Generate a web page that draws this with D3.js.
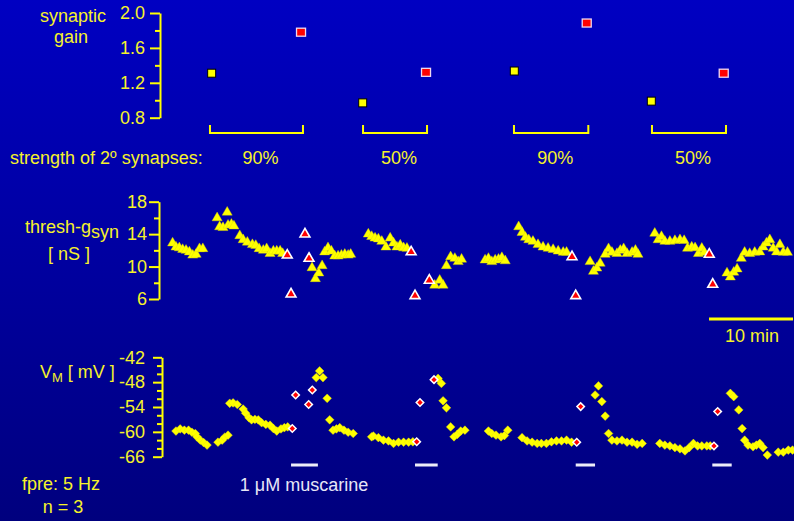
<!DOCTYPE html>
<html><head><meta charset="utf-8">
<script src="https://cdn.jsdelivr.net/npm/d3@7"></script>
<style>html,body{margin:0;padding:0;background:#0000a0;}svg{display:block;}</style>
</head><body>
<script>
// ---------- DATA ----------
const gainTicks = [0.8, 1.2, 1.6, 2.0];
const gainMinorTicks = [1.0, 1.4, 1.8];
const threshTicks = [6, 10, 14, 18];
const threshMinorTicks = [8, 12, 16];
const vmTicks = [-66, -60, -54, -48, -42];
const vmMinorTicks = [-64, -62, -58, -56, -52, -50, -46, -44];

// synaptic gain (time in min)
const gainCtrlT = [6.15, 24.13, 42.18, 58.49];
const gainCtrlV = [1.31, 0.97, 1.335, 0.99];
const gainMuscT = [16.79, 31.67, 50.80, 67.11];
const gainMuscV = [1.78, 1.32, 1.885, 1.31];
const strengthLabels = ["90%", "50%", "90%", "50%"];
const bracketStart = [5.95, 24.17, 42.14, 58.57];
const bracketEnd = [17.02, 31.79, 50.99, 67.38];
const muscStart = [15.6, 30.36, 49.49, 65.75];
const muscEnd = [18.8, 33.06, 51.79, 68.06];
const scaleBarStart = 65.36, scaleBarLen = 10;

// thresh-g_syn [nS]
const threshT = [1.5,1.9,2.3,2.7,3.1,3.5,3.9,4.3,4.7,5.1,
  6.8,7.1,7.5,8.0,8.1,8.5,8.8,9.5,9.9,10.4,11.0,11.4,11.8,12.3,12.7,13.1,13.5,13.9,14.3,14.6,
  18.1,18.5,18.9,19.3,19.6,20.0,20.4,20.8,21.2,21.6,22.0,22.4,22.7,
  24.8,25.2,25.6,26.0,26.4,26.9,27.4,27.8,28.2,28.6,29.0,29.4,
  32.7,33.3,33.7,34.1,34.6,35.1,35.5,35.9,
  38.7,39.1,39.5,39.9,40.3,40.7,41.1,
  42.7,43.1,43.5,43.9,44.4,45.0,45.6,46.2,46.8,47.4,48.0,48.4,
  51.2,51.6,52.0,52.4,53.0,53.4,53.8,54.4,54.8,55.2,55.6,56.2,56.6,56.9,
  58.9,59.3,59.7,60.1,60.7,61.3,61.9,62.4,62.8,63.3,63.7,64.1,64.5,64.8,
  67.5,67.9,68.3,68.7,69.2,69.6,70.2,70.8,71.4,71.8,72.2,72.6,73.0,73.4,73.8,74.2,74.7];
const threshV = [12.9,12.4,12.3,12.1,12.0,11.8,11.4,11.5,12.2,12.2,
  16.0,14.9,14.8,16.7,15.1,15.2,15.0,13.8,13.3,13.0,12.7,12.6,12.2,12.0,12.2,11.6,11.9,11.9,11.9,11.6,
  9.85,8.5,9.2,10.1,11.8,12.3,11.9,11.3,11.3,11.4,11.5,11.4,11.5,
  14.0,13.7,13.5,13.4,13.1,12.4,13.5,12.9,12.4,12.65,12.3,12.25,
  7.7,8.3,7.7,10.1,11.2,11.0,10.6,10.9,
  10.8,11.0,10.6,10.8,10.9,11.1,10.7,
  14.9,14.2,13.6,13.3,13.1,12.7,12.4,12.25,12.1,11.9,11.75,11.75,
  10.6,9.4,9.8,10.4,11.5,12.2,11.75,11.6,12.0,12.2,11.6,11.75,12.0,11.5,
  14.1,13.3,13.7,13.1,13.1,13.2,13.3,13.2,12.25,12.4,12.3,11.6,12.25,11.75,
  9.2,8.7,9.3,9.7,11.0,11.75,11.6,11.75,11.8,12.4,12.9,13.3,12.25,11.8,12.7,11.75,11.75];
const threshRedT = [15.15, 15.6, 17.26, 17.74, 29.9, 30.36, 32.06, 49.05, 49.49, 65.39, 65.8];
const threshRedV = [11.4, 6.6, 14.0, 11.0, 11.8, 6.4, 8.3, 11.2, 6.4, 11.5, 7.8];

// V_M [mV]
const vmT = [1.9,2.4,2.9,3.4,3.8,4.2,4.4,4.8,5.2,5.6,
  6.9,7.4,7.7,8.1,
  8.3,8.7,9.2,9.9,10.2,10.6,10.9,11.3,11.7,12.1,12.6,13.1,13.5,13.9,14.4,14.8,15.2,
  18.6,19.0,19.4,19.9,20.2,20.6,21.0,21.4,21.9,22.4,23.0,
  25.2,25.4,26.0,26.6,27.2,27.8,28.4,29.0,29.6,30.1,
  33.1,33.5,33.7,34.1,34.6,35.0,35.4,35.8,36.3,
  39.1,39.5,40.0,40.6,41.0,41.4,
  43.1,43.7,44.3,44.9,45.4,46.0,46.6,47.2,47.8,48.4,49.0,
  51.8,52.2,52.6,53.0,53.4,53.8,54.4,55.0,55.6,56.2,56.8,57.4,
  59.5,60.1,60.7,61.3,61.9,62.5,63.0,63.5,64.0,64.5,65.1,65.5,
  67.9,68.3,68.9,69.3,69.6,70.0,70.6,71.0,71.4,71.8,72.3,73.6,74.2,74.8,75.3];
const vmV = [-59.8,-59.3,-59.6,-59.6,-60.1,-60.4,-61.2,-62.0,-62.6,-63.2,
  -62.5,-62.0,-61.3,-60.8,
  -53.1,-53.0,-53.4,-54.5,-55.5,-56.6,-57.1,-57.0,-57.1,-57.8,-58.2,-58.4,-59.2,-59.8,-59.3,-59.0,-58.8,
  -46.9,-45.3,-46.9,-51.9,-57.1,-59.6,-59.3,-59.0,-59.6,-60.1,-60.4,
  -61.2,-61.0,-61.4,-62.0,-62.2,-62.8,-62.5,-62.5,-62.5,-62.4,
  -47.1,-48.3,-52.5,-54.2,-58.8,-61.2,-60.6,-59.8,-59.6,
  -59.8,-60.4,-60.8,-61.2,-60.9,-59.6,
  -61.4,-62.2,-62.5,-62.8,-62.8,-62.8,-62.4,-62.2,-62.2,-62.0,-62.5,
  -51.1,-48.9,-52.7,-56.2,-60.4,-62.0,-62.2,-62.0,-62.5,-62.5,-63.0,-62.8,
  -62.8,-63.2,-63.4,-63.8,-64.1,-64.6,-63.8,-62.8,-63.4,-63.4,-63.4,-63.4,
  -50.7,-51.5,-54.7,-59.2,-62.0,-63.2,-63.6,-63.2,-62.8,-63.8,-65.6,-64.9,-64.9,-64.4,-64.4];
const vmRedT = [15.75, 16.15, 17.7, 18.13, 30.56, 30.95, 32.62, 49.61, 50.08, 65.95, 66.39];
const vmRedV = [-59.2, -51.1, -53.4, -49.9, -62.4, -52.9, -47.4, -62.5, -53.9, -63.4, -55.1];

// ---------- DRAW ----------
const W = 794, H = 521;
const YEL = "#ffff00", TXT = "#f6f22a", FONT = "'Liberation Sans', Arial, sans-serif";
const svg = d3.select("body").append("svg").attr("width", W).attr("height", H)
  .style("font-family", FONT);
const defs = svg.append("defs");
const grad = defs.append("linearGradient").attr("id", "bg").attr("x1", 0).attr("y1", 0).attr("x2", 0).attr("y2", 1);
grad.append("stop").attr("offset", "0%").attr("stop-color", "#0000c2");
grad.append("stop").attr("offset", "100%").attr("stop-color", "#00007e");
svg.append("rect").attr("width", W).attr("height", H).attr("fill", "url(#bg)");

const x = d3.scaleLinear().domain([0, 75]).range([160, 790]);
const yGain = d3.scaleLinear().domain([0.8, 2.0]).range([117.7, 13]);
const yThr = d3.scaleLinear().domain([6, 18]).range([299, 201.7]);
const yVm = d3.scaleLinear().domain([-66, -42]).range([456.7, 357.3]);

const hyphenInt = d => String(Math.round(d)); // plain hyphen-minus like the original

function drawAxis(xPos, scale, major, minor, fmt, majorLen, minorLen, pad) {
  const g = svg.append("g").attr("transform", `translate(${xPos},0)`);
  g.call(d3.axisLeft(scale).tickValues(major).tickSize(majorLen).tickSizeOuter(0)
    .tickPadding(pad).tickFormat(fmt));
  const gm = svg.append("g").attr("transform", `translate(${xPos},0)`);
  gm.call(d3.axisLeft(scale).tickValues(minor).tickSize(minorLen).tickSizeOuter(0).tickFormat(""));
  gm.select(".domain").remove();
  [g, gm].forEach(s => {
    s.selectAll("path,line").attr("stroke", YEL).attr("stroke-width", 2);
    s.selectAll("text").attr("fill", TXT).style("font-size", "18px").style("font-family", FONT);
  });
}
drawAxis(160, yGain, gainTicks, gainMinorTicks, d3.format(".1f"), 10, 5, 5);
drawAxis(159, yThr, threshTicks, threshMinorTicks, hyphenInt, 10, 5, 2);
drawAxis(162, yVm, vmTicks, vmMinorTicks, hyphenInt, 9, 5, 8);

// text labels
function label(t, xx, yy, anchor, color, size) {
  return svg.append("text").attr("x", xx).attr("y", yy).attr("text-anchor", anchor || "start")
    .attr("fill", color || TXT).style("font-size", (size || 18) + "px").text(t);
}
label("synaptic", 73, 22, "middle");
label("gain", 71, 43, "middle");
label("strength of 2º synapses:", 10, 164);
const th = svg.append("text").attr("x", 25).attr("y", 233).attr("fill", TXT).style("font-size", "18px");
th.append("tspan").text("thresh-g");
th.append("tspan").attr("dy", 5).text("syn");
label("[ nS ]", 69, 260, "middle");
const vm = svg.append("text").attr("x", 40).attr("y", 378).attr("fill", TXT).style("font-size", "18px");
vm.append("tspan").text("V");
vm.append("tspan").attr("dy", 4).style("font-size", "13px").text("M");
vm.append("tspan").attr("dy", -4).text(" [ mV ]");
label("fpre: 5 Hz", 22, 490);
label("n = 3", 63, 513, "middle");
label("1 μM muscarine", 304, 491, "middle", "#e6e6f6");

// brackets + strength labels
const brk = svg.append("g");
bracketStart.forEach((s, i) => {
  const x0 = x(s), x1 = x(bracketEnd[i]);
  brk.append("path").attr("d", `M${x0},125V133H${x1}V125`).attr("fill", "none")
    .attr("stroke", YEL).attr("stroke-width", 2);
  label(strengthLabels[i], (x0 + x1) / 2 + 4, 164, "middle");
});

// muscarine bars
muscStart.forEach((s, i) => {
  svg.append("line").attr("x1", x(s)).attr("x2", x(muscEnd[i])).attr("y1", 465).attr("y2", 465)
    .attr("stroke", "#ececf8").attr("stroke-width", 3);
});
// scale bar
svg.append("line").attr("x1", x(scaleBarStart)).attr("x2", x(scaleBarStart + scaleBarLen))
  .attr("y1", 319).attr("y2", 319).attr("stroke", YEL).attr("stroke-width", 3);
label("10 min", 752, 342, "middle");

// gain squares
const sq = svg.append("g");
gainCtrlT.forEach((t, i) => {
  sq.append("rect").attr("x", x(t) - 4).attr("y", yGain(gainCtrlV[i]) - 4).attr("width", 8).attr("height", 8)
    .attr("fill", YEL).attr("stroke", "#000").attr("stroke-width", 1);
});
gainMuscT.forEach((t, i) => {
  sq.append("rect").attr("x", x(t) - 4.5).attr("y", yGain(gainMuscV[i]) - 4).attr("width", 9).attr("height", 8)
    .attr("fill", "#ff0000").attr("stroke", "#f0d8f0").attr("stroke-width", 1.3);
});

// triangles
const tri = d3.symbol().type(d3.symbolTriangle);
svg.append("g").selectAll("path").data(threshT).join("path")
  .attr("d", tri.size(44)())
  .attr("transform", (d, i) => `translate(${x(d)},${yThr(threshV[i])})`)
  .attr("fill", YEL).attr("stroke", "#d8d800").attr("stroke-width", 0.4);
svg.append("g").selectAll("path").data(threshRedT).join("path")
  .attr("d", d3.symbol().type(d3.symbolTriangle).size(42)())
  .attr("transform", (d, i) => `translate(${x(d)},${yThr(threshRedV[i])})`)
  .attr("fill", "#ff0000").attr("stroke", "#ffffff").attr("stroke-width", 1.6);

// diamonds
const sqSym = d3.symbol().type(d3.symbolSquare);
svg.append("g").selectAll("path").data(vmT).join("path")
  .attr("d", sqSym.size(38)())
  .attr("transform", (d, i) => `translate(${x(d)},${yVm(vmV[i])}) rotate(45)`)
  .attr("fill", YEL).attr("stroke", "#e8e800").attr("stroke-width", 0.4);
svg.append("g").selectAll("path").data(vmRedT).join("path")
  .attr("d", d3.symbol().type(d3.symbolSquare).size(28)())
  .attr("transform", (d, i) => `translate(${x(d)},${yVm(vmRedV[i])}) rotate(45)`)
  .attr("fill", "#ff0000").attr("stroke", "#ffffff").attr("stroke-width", 1.5);
</script>
</body></html>
